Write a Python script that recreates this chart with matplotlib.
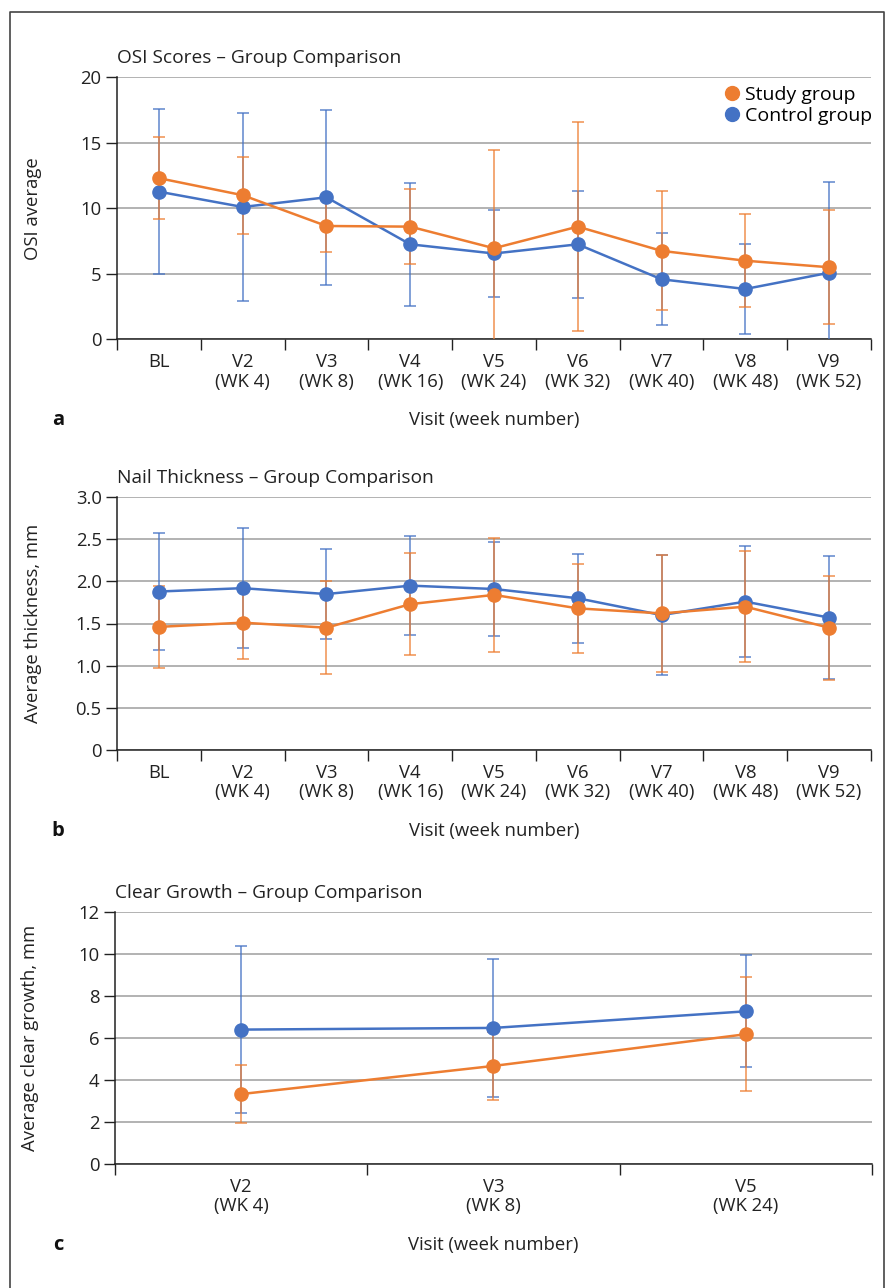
import numpy as np
import matplotlib
matplotlib.use("Agg")
from matplotlib import pyplot as plt
from matplotlib.lines import Line2D

plt.rcParams['font.family'] = ['Open Sans', 'DejaVu Sans']

STUDY = '#ED7D31'
CTRL = '#4472C4'

# panel a - OSI scores
visits_a = ["BL", "V2\n(WK 4)", "V3\n(WK 8)", "V4\n(WK 16)", "V5\n(WK 24)",
            "V6\n(WK 32)", "V7\n(WK 40)", "V8\n(WK 48)", "V9\n(WK 52)"]
osi_study = [12.3, 11.0, 8.65, 8.6, 6.95, 8.6, 6.75, 6.0, 5.5]
osi_study_err = [3.15, 2.95, 1.97, 2.87, 7.5, 8.0, 4.54, 3.55, 4.35]
osi_ctrl = [11.27, 10.1, 10.84, 7.25, 6.55, 7.25, 4.58, 3.84, 5.08]
osi_ctrl_err = [6.32, 7.2, 6.7, 4.7, 3.35, 4.1, 3.5, 3.4, 6.95]

# panel b - nail thickness
thick_study = [1.46, 1.51, 1.45, 1.73, 1.84, 1.68, 1.62, 1.70, 1.45]
thick_study_err = [0.49, 0.43, 0.55, 0.61, 0.68, 0.53, 0.70, 0.66, 0.62]
thick_ctrl = [1.88, 1.92, 1.85, 1.95, 1.91, 1.80, 1.60, 1.76, 1.57]
thick_ctrl_err = [0.70, 0.71, 0.54, 0.59, 0.56, 0.53, 0.71, 0.66, 0.73]

# panel c - clear growth
visits_c = ["V2\n(WK 4)", "V3\n(WK 8)", "V5\n(WK 24)"]
growth_study = [3.33, 4.67, 6.18]
growth_study_err = [1.4, 1.6, 2.72]
growth_ctrl = [6.4, 6.48, 7.27]
growth_ctrl_err = [3.96, 3.28, 2.67]

W, H = 895, 1288
fig = plt.figure(figsize=(W / 100, H / 100), dpi=100)

# outer frame
fig.add_artist(Line2D([10 / W, 10 / W, 884 / W, 884 / W], [0, 1 - 12 / H, 1 - 12 / H, 0],
                      transform=fig.transFigure, color='#444444', lw=1.2))

FS = 13.3


def panel(rect, labels, study, study_err, ctrl, ctrl_err, ymax, ystep, yfmt,
          title, ylabel, letter):
    ax = fig.add_axes(rect)
    x = np.arange(len(labels))
    for y, e, c in [(ctrl, ctrl_err, CTRL), (study, study_err, STUDY)]:
        ax.errorbar(x, y, yerr=e, fmt='none', ecolor=c, elinewidth=1.1,
                    capsize=4.5, capthick=1.1, alpha=0.85, zorder=3)
        ax.plot(x, y, color=c, lw=1.8, marker='o', markersize=9.5, zorder=4)
    ax.set_xlim(-0.5, len(labels) - 0.5)
    ax.set_ylim(0, ymax)
    yt = np.arange(0, ymax + ystep / 2, ystep)
    ax.set_yticks(yt)
    ax.set_yticklabels([yfmt(v) for v in yt], fontsize=FS, color='#222222')
    ax.set_xticks(x)
    ax.set_xticklabels(labels, fontsize=FS, color='#222222', linespacing=1.1)
    ax.set_xticks(np.arange(len(labels) + 1) - 0.5, minor=True)
    ax.tick_params(axis='x', which='major', length=0, pad=10)
    ax.tick_params(axis='x', which='minor', length=8, width=1, color='#222222')
    ax.tick_params(axis='y', length=8, width=1, color='#222222', pad=3)
    ax.grid(axis='y', color='#A6A6A6', lw=1.2)
    ax.set_axisbelow(True)
    for s in ['top', 'right']:
        ax.spines[s].set_visible(False)
    for s in ['left', 'bottom']:
        ax.spines[s].set_color('#222222')
        ax.spines[s].set_linewidth(1.1)
    ax.set_ylabel(ylabel, fontsize=FS, color='#222222')
    ax.yaxis.set_label_coords(-0.1, 0.5)
    l, b, w, h = rect
    fig.text(l, b + h + 14 / H, title, fontsize=13.8, color='#222222', va='baseline')
    fig.text(l + w / 2, b - 81 / H, "Visit (week number)", fontsize=FS,
             color='#222222', ha='center', va='center')
    fig.text(58 / W, b - 81 / H, letter, fontsize=14.5, fontweight='bold',
             color='#111111', ha='center', va='center')
    return ax


ax_a = panel([117 / W, 1 - 339.3 / H, 754 / W, 262 / H], visits_a,
             osi_study, osi_study_err, osi_ctrl, osi_ctrl_err, 20, 5,
             lambda v: f"{v:.0f}", "OSI Scores – Group Comparison",
             "OSI average", "a")
ax_b = panel([117 / W, 1 - 749.7 / H, 754 / W, 252.4 / H], visits_a,
             thick_study, thick_study_err, thick_ctrl, thick_ctrl_err, 3.0, 0.5,
             lambda v: "0" if v == 0 else f"{v:.1f}",
             "Nail Thickness – Group Comparison", "Average thickness, mm", "b")
ax_c = panel([115 / W, 1 - 1164 / H, 757 / W, 252 / H], visits_c,
             growth_study, growth_study_err, growth_ctrl, growth_ctrl_err, 12, 2,
             lambda v: f"{v:.0f}", "Clear Growth – Group Comparison",
             "Average clear growth, mm", "c")

handles = [Line2D([], [], ls='none', marker='o', markersize=10, color=STUDY),
           Line2D([], [], ls='none', marker='o', markersize=10, color=CTRL)]
fig.legend(handles, ["Study group", "Control group"], loc='upper left',
           bbox_to_anchor=(724 / W, 1 - 86 / H), frameon=False, fontsize=14,
           handlelength=0.8, handletextpad=0.3, labelspacing=0.15, borderpad=0,
           borderaxespad=0)

fig.savefig('out.png', dpi=100)
